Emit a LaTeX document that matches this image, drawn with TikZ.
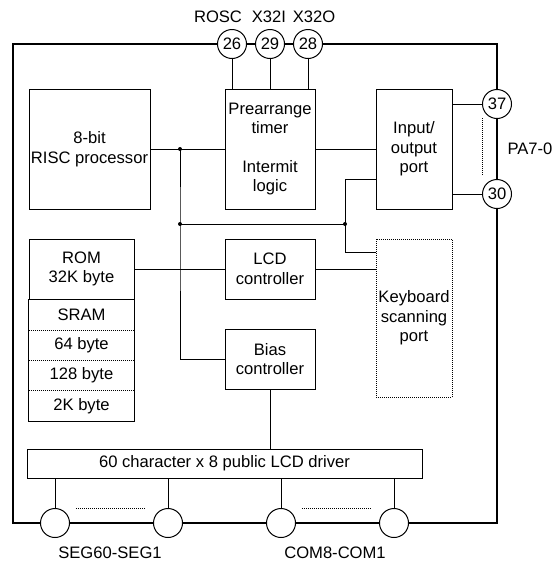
\documentclass[tikz,border=0pt]{standalone}
\usepackage{fontspec}
\setmainfont{Liberation Sans}
\usetikzlibrary{positioning}

\begin{document}
\begin{tikzpicture}[x=1pt,y=-1pt,
  every node/.style={font=\fontsize{16.6}{19.5}\selectfont},
  blk/.style={draw,line width=1pt,inner sep=0pt,align=center},
  row/.style={inner sep=0pt,minimum width=105pt,minimum height=30pt},
  pin/.style={draw,circle,fill=white,line width=1pt,minimum size=29pt,inner sep=0pt},
  wire/.style={line width=1pt},
  frame/.style={line width=2pt},
  dots/.style={line width=0.8pt,dash pattern=on 1pt off 1pt}]
  \useasboundingbox (0,0) rectangle (559,563);
  % chip outline
  \coordinate (tl) at (13,44);
  \coordinate (br) at (497,523);
  \draw[frame] (tl) rectangle (br);
  % pins
  \node[pin] (p26) at (232,44) {26};
  \node[pin] (p29) at (270,44) {29};
  \node[pin] (p28) at (308,44) {28};
  \node[pin] (p37) at (497,104) {37};
  \node[pin] (p30) at (497,194) {30};
  \node[pin] (seg1) at (55,523) {};
  \node[pin] (seg2) at (168,523) {};
  \node[pin] (com1) at (281,523) {};
  \node[pin] (com2) at (394,523) {};
  \node (rosc) at (218,17) {ROSC};
  \node (xin) at (269,17) {X32I};
  \node (xout) at (314,17) {X32O};
  \node (pa) at (530,149) {PA7-0};
  \node (seglbl) at (110,553) {SEG60-SEG1};
  \node (comlbl) at (335,553) {COM8-COM1};
  % blocks
  \node[blk,minimum width=121pt,minimum height=120pt] (cpu) at (89.5,149) {8-bit\\RISC processor};
  \node[blk,minimum width=90pt,minimum height=120pt] (timer) at (270,149) {Prearrange\\timer\\[19pt]Intermit\\logic};
  \node[blk,minimum width=76pt,minimum height=120pt] (io) at (414,149) {Input/\\output\\port};
  \node[blk,minimum width=105pt,minimum height=60pt] (rom) at (81.5,269) {ROM\\32K byte};
  \node[row,below=0pt of rom] (sram) {SRAM};
  \node[row,below=0pt of sram] (m64) {64 byte};
  \node[row,below=0pt of m64] (m128) {128 byte};
  \node[row,below=0pt of m128] (m2k) {2K byte};
  \draw[wire] (sram.north west) rectangle (m2k.south east);
  \draw[dots] (sram.south west) -- (sram.south east);
  \draw[dots] (m64.south west) -- (m64.south east);
  \draw[dots] (m128.south west) -- (m128.south east);
  \node[blk,minimum width=90pt,minimum height=60pt] (lcd) at (270,269) {LCD\\controller};
  \node[blk,dots,minimum width=76pt,minimum height=158pt] (kbd) at (414,318) {Keyboard\\scanning\\port};
  \node[blk,minimum width=90pt,minimum height=60pt] (bias) at (270,359) {Bias\\controller};
  \node[blk,minimum width=395pt,minimum height=29pt] (drv) at (224.5,463.5) {60 character x 8 public LCD driver};
  % bus
  \coordinate (j1) at (180,149);
  \coordinate (j2) at (180,224);
  \coordinate (j3) at (345,224);
  \draw[wire] (cpu.east) -- (timer.west);
  \draw[wire] (timer.east) -- (io.west);
  \draw[wire] (j1) -- (j2) |- (bias.west);
  \draw[wire] (j2) -- (j3);
  \draw[wire] (j3) |- ([yshift=-30pt]io.west);
  \draw[wire] (j3) |- ([yshift=-14pt]kbd.north west);
  \draw[wire] (rom.east) -- (lcd.west);
  \draw[wire] (lcd.east) -- (lcd.east -| kbd.west);
  \fill (j1) circle (2pt) (j2) circle (2pt) (j3) circle (2pt);
  % pin wiring
  \draw[wire] (p26.south) -- (p26 |- timer.north);
  \draw[wire] (p29.south) -- (p29 |- timer.north);
  \draw[wire] (p28.south) -- (p28 |- timer.north);
  \draw[wire] (io.east |- p37) -- (p37.west);
  \draw[wire] (io.east |- p30) -- (p30.west);
  \draw[dots] (482,118) -- (482,176);
  \draw[wire] (bias.south) -- (bias.south |- drv.north);
  \draw[wire] (seg1 |- drv.south) -- (seg1.north);
  \draw[wire] (seg2 |- drv.south) -- (seg2.north);
  \draw[wire] (com1 |- drv.south) -- (com1.north);
  \draw[wire] (com2 |- drv.south) -- (com2.north);
  \draw[dots] (76,508) -- (146,508);
  \draw[dots] (302,508) -- (371,508);
\end{tikzpicture}
\end{document}
